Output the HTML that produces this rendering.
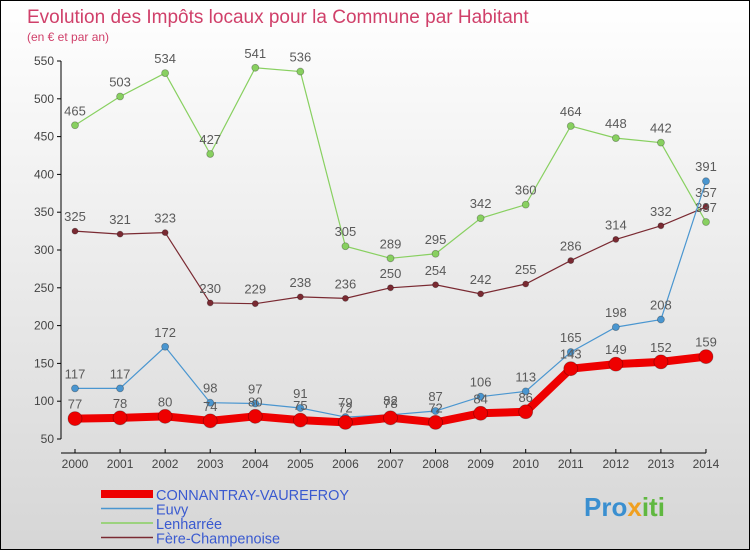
<!DOCTYPE html>
<html><head><meta charset="utf-8"><style>
body{margin:0;}
#c{position:relative;width:748px;height:548px;border:1px solid #000;background:linear-gradient(#fff,#d6d6d6);font-family:"Liberation Sans",sans-serif;overflow:hidden}
svg text{font-family:"Liberation Sans",sans-serif}
</style></head><body>
<div id="c">
<svg id="s" width="748" height="548">
<text x="26" y="22" font-size="19" fill="#d0406a">Evolution des Impôts locaux pour la Commune par Habitant</text>
<text x="26" y="40" font-size="12" fill="#d0406a">(en € et par an)</text>
<text x="583" y="515" font-size="26" font-weight="bold" fill="#3a8fd0">Pro<tspan fill="#f0a020">x</tspan><tspan fill="#60b840">iti</tspan></text>
</svg></div>
<script>
const years=[2000,2001,2002,2003,2004,2005,2006,2007,2008,2009,2010,2011,2012,2013,2014];
const yTicks=[50,100,150,200,250,300,350,400,450,500,550];
const connantray=[77,78,80,74,80,75,72,78,72,84,86,143,149,152,159];
const euvy=[117,117,172,98,97,91,79,82,87,106,113,165,198,208,391];
const lenharree=[465,503,534,427,541,536,305,289,295,342,360,464,448,442,337];
const fere=[325,321,323,230,229,238,236,250,254,242,255,286,314,332,357];
const names=["CONNANTRAY-VAUREFROY","Euvy","Lenharrée","Fère-Champenoise"];
const s=document.getElementById('s');const NS='http://www.w3.org/2000/svg';
function X(i){return 74+i*45.07;}
function Y(v){return 438-(v-50)*0.756;}
function el(t,a,txt){const e=document.createElementNS(NS,t);for(const k in a)e.setAttribute(k,a[k]);if(txt!==undefined)e.textContent=txt;s.appendChild(e);return e;}
let ax=el('line',{x1:60,y1:Y(550),x2:60,y2:Y(50),stroke:'#000'});


let xa=el('line',{x1:60,y1:452,x2:X(14),y2:452,stroke:'#000'});


yTicks.forEach(v=>{
 let t=el('line',{x1:56,y1:Y(v),x2:60,y2:Y(v),stroke:'#000'});
 
 
 let l=el('text',{x:53,y:Y(v)+4,'font-size':12,fill:'#444','text-anchor':'end'},v);
 
 
});
years.forEach((y,i)=>{
 let t=el('line',{x1:X(i),y1:448,x2:X(i),y2:452,stroke:'#000'});
 
 
 let l=el('text',{x:X(i),y:467,'font-size':12,fill:'#444','text-anchor':'middle'},y);
 
 
});
const series=[[fere,'#7a2a32',1.2,3,'fere-champenoise'],[lenharree,'#88d060',1.2,3.5,'lenharree'],[euvy,'#4a96d0',1.2,3.5,'euvy'],[connantray,'#ee0000',8,7,'connantray-vaurefroy']];
series.forEach(([d,c,w,r,n])=>{
 let p=el('polyline',{points:d.map((v,i)=>X(i)+','+Y(v)).join(' '),fill:'none',stroke:c,'stroke-width':w});
 
 
 d.forEach((v,i)=>{
  let m=el('circle',{cx:X(i),cy:Y(v),r:r,fill:c,stroke:'rgba(0,0,0,0.3)','stroke-width':0.8});
  
  
  let l=el('text',{x:X(i),y:Y(v)-10,'font-size':13,fill:'#5a5a5a','text-anchor':'middle'},v);
  
  
 });
});
const lc=['#ee0000','#4a96d0','#88d060','#7a2a32'],lw=[8,1.5,1.5,1.5];
names.forEach((n,i)=>{
 const y=493+i*14.5;
 let ln=el('line',{x1:100,y1:y,x2:152,y2:y,stroke:lc[i],'stroke-width':lw[i]});
 
 
 let t=el('text',{x:155,y:y+6,'font-size':14.5,fill:'#3a5ad0'},n);
 
 
});
</script>
</body></html>
